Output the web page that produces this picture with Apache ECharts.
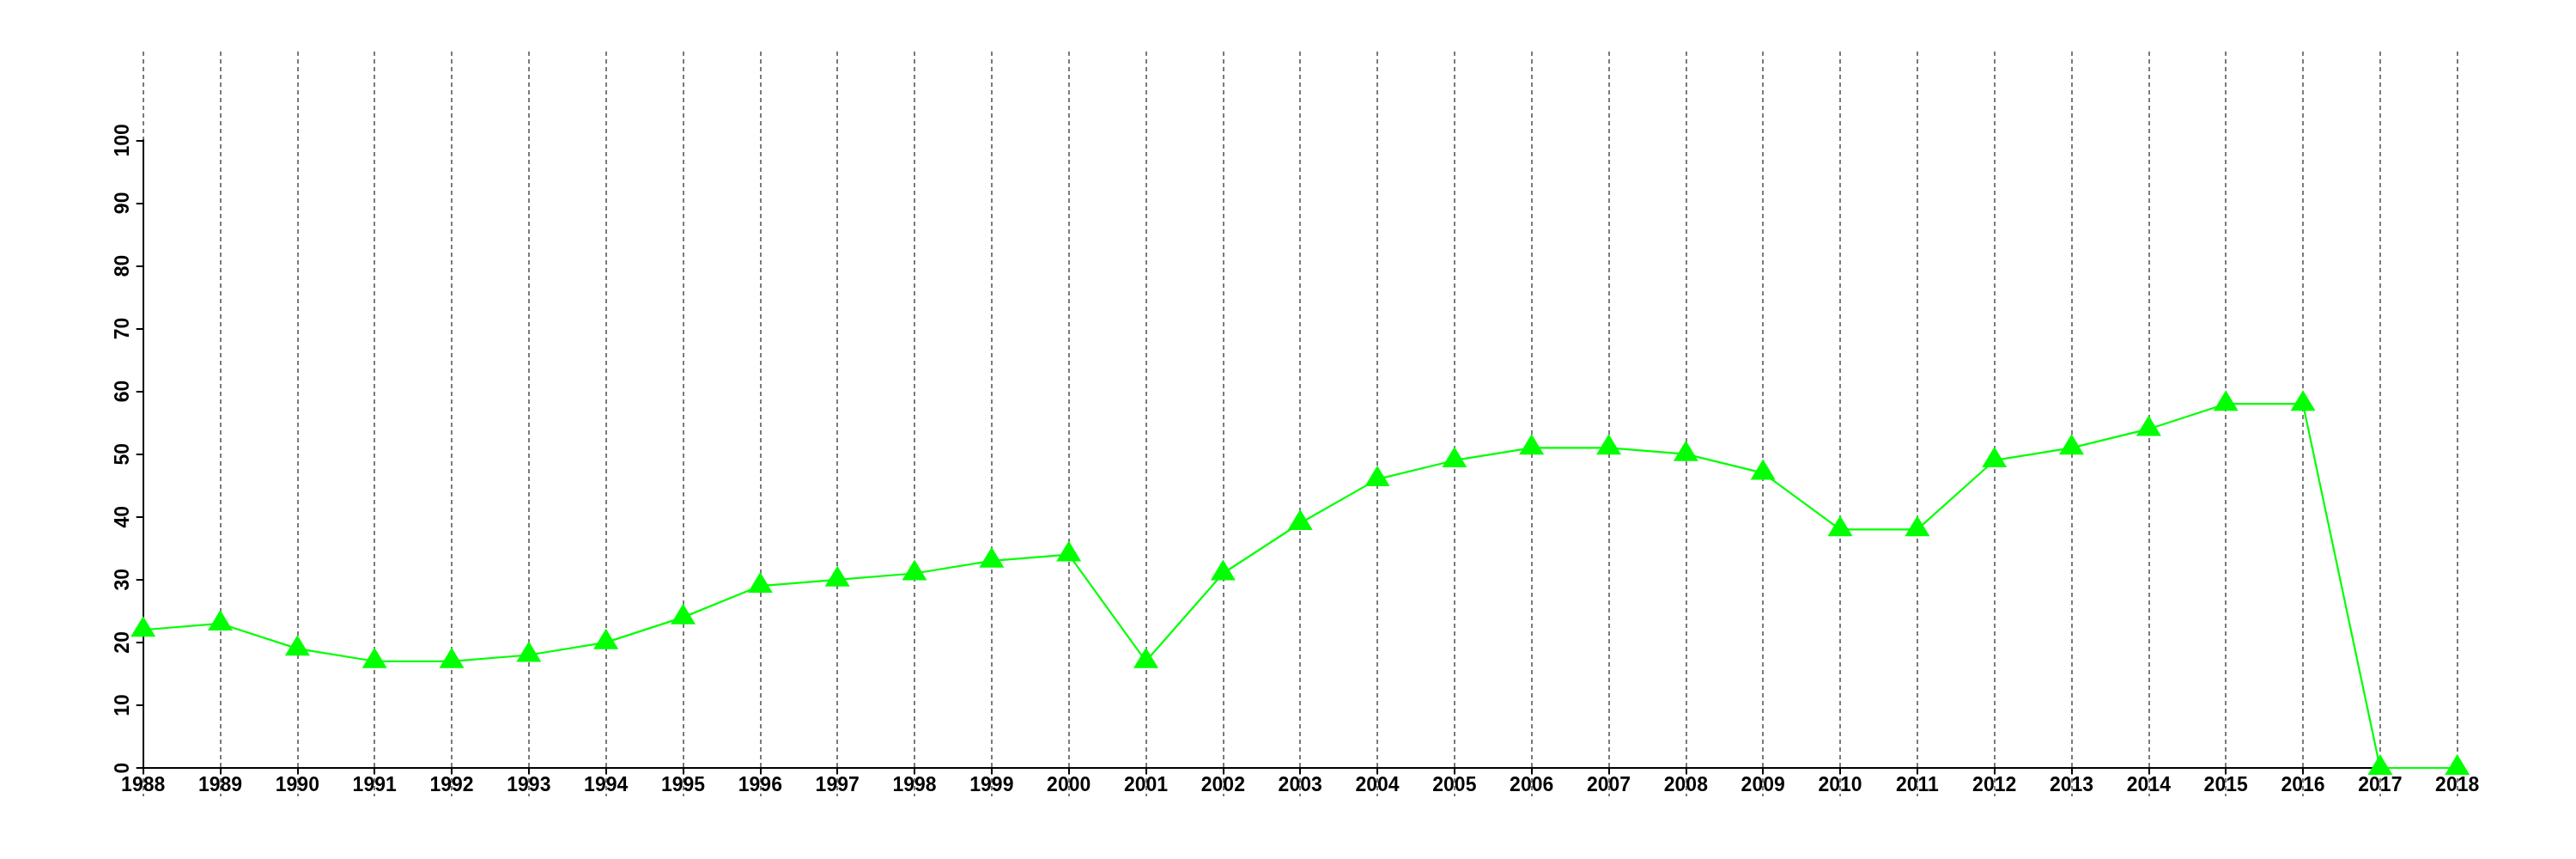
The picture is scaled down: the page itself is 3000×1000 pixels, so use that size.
<!DOCTYPE html>
<html>
<head>
<meta charset="utf-8">
<script src="https://cdn.jsdelivr.net/npm/echarts@6/dist/echarts.min.js"></script>
<style>html,body{margin:0;padding:0;background:#fff;}#c{width:3000px;height:1000px;}</style>
</head>
<body>
<div id="c"></div>
<script>
var years = ['1988','1989','1990','1991','1992','1993','1994','1995','1996','1997','1998','1999','2000','2001','2002','2003','2004','2005','2006','2007','2008','2009','2010','2011','2012','2013','2014','2015','2016','2017','2018'];
var values = [22,23,19,17,17,18,20,24,29,30,31,33,34,17,31,39,46,49,51,51,50,47,38,38,49,51,54,58,58,0,0];
var yTicks = {min: 0, max: 100, interval: 10};

var chart = echarts.init(document.getElementById('c'), null, {renderer: 'canvas'});
var font = {fontFamily: 'Liberation Sans', fontWeight: 'bold', fontSize: 23, color: '#000'};
chart.setOption({
  animation: false,
  backgroundColor: '#fff',
  grid: [
    {left: 166.7, right: 138.3, top: 163.3, bottom: 106, containLabel: false},
    {left: 166.7, right: 138.3, top: 60, bottom: 73, containLabel: false}
  ],
  xAxis: [
    {
      type: 'category', gridIndex: 0, data: years, boundaryGap: false,
      axisLine: {show: true, onZero: false, lineStyle: {color: '#000', width: 2}},
      axisTick: {show: true, length: 7, lineStyle: {color: '#000', width: 2}, alignWithLabel: true},
      axisLabel: Object.assign({margin: 9, interval: 0}, font),
      splitLine: {show: false}
    },
    {
      type: 'category', gridIndex: 1, data: years, boundaryGap: false,
      axisLine: {show: false}, axisTick: {show: false}, axisLabel: {show: false},
      splitLine: {show: true, interval: 0, lineStyle: {color: '#7a7a7a', width: 2, type: [5, 4]}}
    }
  ],
  yAxis: [
    {
      type: 'value', gridIndex: 0, min: yTicks.min, max: yTicks.max, interval: yTicks.interval,
      axisLine: {show: true, lineStyle: {color: '#000', width: 2}},
      axisTick: {show: true, length: 8, lineStyle: {color: '#000', width: 2}},
      axisLabel: Object.assign({margin: 12, rotate: 90}, font),
      splitLine: {show: false}
    },
    {
      type: 'value', gridIndex: 1, min: 0, max: 1, show: false
    }
  ],
  series: [
    {
      type: 'line', xAxisIndex: 0, yAxisIndex: 0, data: values,
      symbol: 'triangle', symbolSize: [29, 24], symbolOffset: [0, -4], showAllSymbol: true,
      lineStyle: {color: '#00ff00', width: 2.2},
      itemStyle: {color: '#00ff00'},
      z: 5
    },
    {
      type: 'line', xAxisIndex: 1, yAxisIndex: 1, data: [], silent: true
    }
  ]
});
</script>
</body>
</html>
